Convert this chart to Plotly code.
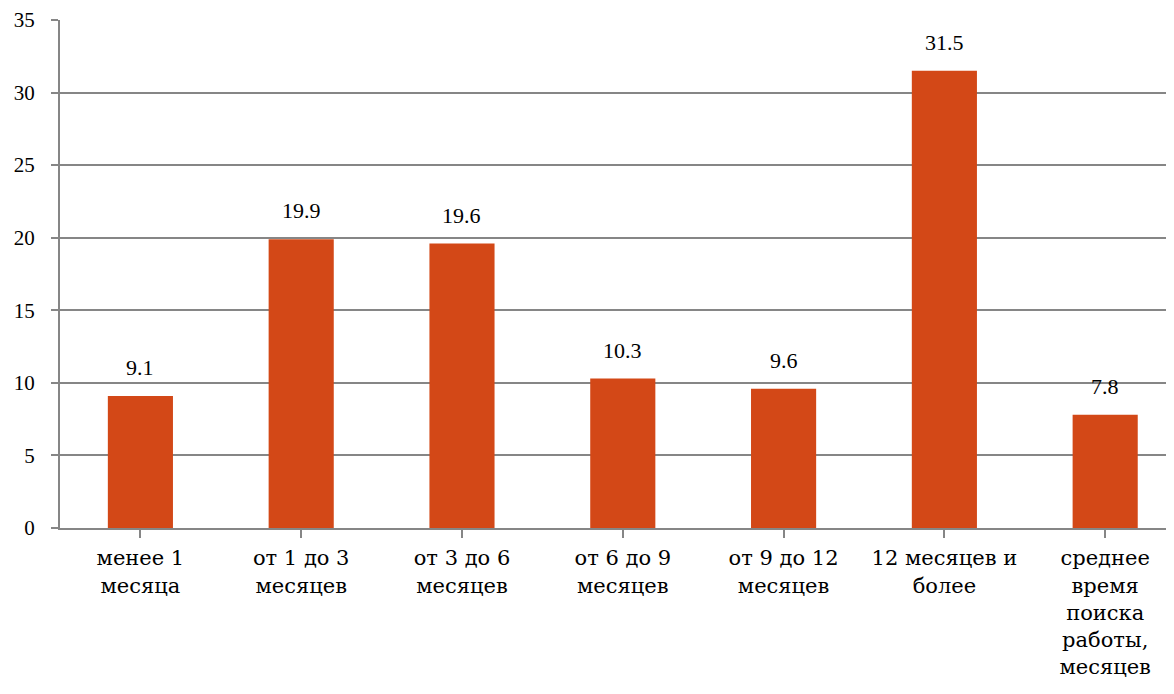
import plotly.graph_objects as go

categories = ["менее 1<br>месяца", "от 1 до 3<br>месяцев", "от 3 до 6<br>месяцев",
              "от 6 до 9<br>месяцев", "от 9 до 12<br>месяцев", "12 месяцев и<br>более",
              "среднее<br>время<br>поиска<br>работы,<br>месяцев"]
values = [9.1, 19.9, 19.6, 10.3, 9.6, 31.5, 7.8]
value_labels = ["9.1", "19.9", "19.6", "10.3", "9.6", "31.5", "7.8"]

bar_color = "#D34817"
grid_color = "#868686"
serif = "Liberation Serif, Times New Roman, serif"
label_font = "DejaVu Serif, Liberation Serif, serif"

xs = list(range(len(categories)))

fig = go.Figure(go.Bar(
    x=xs,
    y=values,
    marker=dict(color=bar_color, line=dict(width=0)),
    cliponaxis=False,
))

for xv, yv, lab in zip(xs, values, value_labels):
    fig.add_annotation(x=xv, y=yv, text=lab, showarrow=False,
                       yanchor="bottom", yshift=14,
                       font=dict(family=serif, size=22, color="#000000"))

fig.update_layout(
    width=1174, height=694,
    margin=dict(l=52, r=8, t=12, b=174),
    plot_bgcolor="white", paper_bgcolor="white",
    bargap=0.595,
    showlegend=False,
)
fig.update_xaxes(
    range=[-0.5, 6.428],
    tickmode="array",
    tickvals=xs,
    ticktext=categories,
    tickfont=dict(family=label_font, size=21, color="#000000"),
    showline=True, linecolor=grid_color, linewidth=2,
    ticks="outside", ticklen=8, tickcolor=grid_color, tickwidth=2,
    tickson="boundaries",
    showgrid=False,
    zeroline=False,
    tickangle=0,
    ticklabelstandoff=2,
    automargin=False,
)
fig.update_yaxes(
    range=[0, 35],
    dtick=5,
    tickfont=dict(family=serif, size=21, color="#000000"),
    showgrid=True, gridcolor=grid_color, gridwidth=2,
    showline=True, linecolor=grid_color, linewidth=2,
    ticks="outside", ticklen=7, tickcolor=grid_color, tickwidth=2,
    zeroline=False,
    ticklabelstandoff=12,
    automargin=False,
)

fig.write_html("out.html")
